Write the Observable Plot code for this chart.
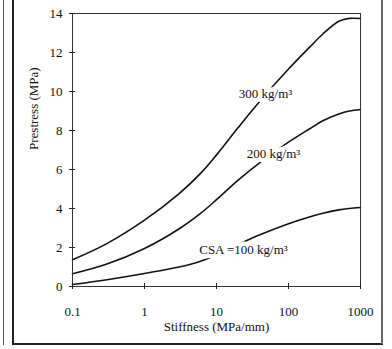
<!DOCTYPE html>
<html>
<head>
<meta charset="utf-8">
<script src="https://cdn.jsdelivr.net/npm/d3@7"></script>
<script src="https://cdn.jsdelivr.net/npm/@observablehq/plot@0.6"></script>
<style>
  html, body { margin: 0; padding: 0; background: #fff; }
  #wrap { position: relative; width: 392px; height: 349px; overflow: hidden; }
  #wrap svg { position: absolute; left: 0; top: 0; }
  .ln { position: absolute; background: #222; }
</style>
</head>
<body>
<div id="wrap">
  <div class="ln" style="left:3px; top:0; width:1px; height:345px; background:#555"></div>
  <div class="ln" style="left:12px; top:0; width:1.5px; height:344px"></div>
  <div class="ln" style="left:12px; top:343px; width:371px; height:1.5px"></div>
  <div class="ln" style="left:381px; top:0; width:1.5px; height:344px; background:#666"></div>
</div>
<script>
// Stiffness (MPa/mm) sample points
const stiffness = [0.1, 0.3, 1, 3, 6, 10, 20, 40, 100, 200, 300, 500, 700, 1000];
// Prestress (MPa) for each density
const prestress300 = [1.37, 2.2, 3.4, 4.75, 5.8, 6.75, 8.15, 9.5, 11.15, 12.3, 12.95, 13.6, 13.75, 13.74];
const prestress200 = [0.65, 1.15, 1.95, 2.95, 3.75, 4.45, 5.45, 6.35, 7.4, 8.1, 8.5, 8.85, 9.0, 9.08];
const prestress100 = [0.1, 0.35, 0.67, 1.0, 1.3, 1.62, 2.15, 2.65, 3.22, 3.58, 3.76, 3.93, 4.0, 4.05];

const xTicks = [0.1, 1, 10, 100, 1000];
const yTicks = [0, 2, 4, 6, 8, 10, 12, 14];

const labelText = ["300 kg/m³", "200 kg/m³", "CSA =100 kg/m³"];
const labelX = [48, 62, 23.7];
const labelY = [9.9, 6.8, 1.9];

const xTitle = "Stiffness (MPa/mm)";
const yTitle = "Prestress (MPa)";

const series = [prestress300, prestress200, prestress100];
const lines = series.map(vals => stiffness.map((s, i) => ({x: s, y: vals[i]})));
const labels = labelText.map((t, i) => ({t, x: labelX[i], y: labelY[i]}));

const font = "Liberation Serif, Times New Roman, serif";

const chart = Plot.plot({
  width: 392,
  height: 349,
  marginLeft: 72,
  marginRight: 32,
  marginTop: 13,
  marginBottom: 63,
  style: {fontFamily: font, fontSize: "13px", color: "#111", background: "transparent"},
  x: {type: "log", domain: [0.1, 1000], ticks: xTicks, tickFormat: d => String(d), label: null},
  y: {domain: [0, 14], ticks: yTicks, label: null},
  marks: [
    ...lines.map(l => Plot.line(l, {x: "x", y: "y", stroke: "#111", strokeWidth: 1.6, curve: "catmull-rom"})),
    Plot.frame({stroke: "#333", strokeWidth: 1}),
    Plot.tickY(yTicks, {y: d => d, insetRight: 282, dx: -3, stroke: "#222"}),
    Plot.tickX(xTicks, {x: d => d, insetTop: 267, dy: 3, stroke: "#222"}),
    Plot.axisY({ticks: yTicks, tickSize: 0, tickPadding: 10, fontSize: 13, label: null}),
    Plot.axisX({ticks: xTicks, tickSize: 0, tickPadding: 20, fontSize: 13, tickFormat: d => String(d), label: null}),
    Plot.text(labels, {x: "x", y: "y", text: "t", fontSize: 13, fill: "#111", stroke: "white", strokeWidth: 9, paintOrder: "stroke"}),
    Plot.text([xTitle], {frameAnchor: "bottom", dy: 44, fontSize: 13, fill: "#111"}),
    Plot.text([yTitle], {frameAnchor: "left", dx: -39, rotate: -90, fontSize: 13, fill: "#111"})
  ]
});
document.getElementById("wrap").appendChild(chart);
</script>
</body>
</html>
